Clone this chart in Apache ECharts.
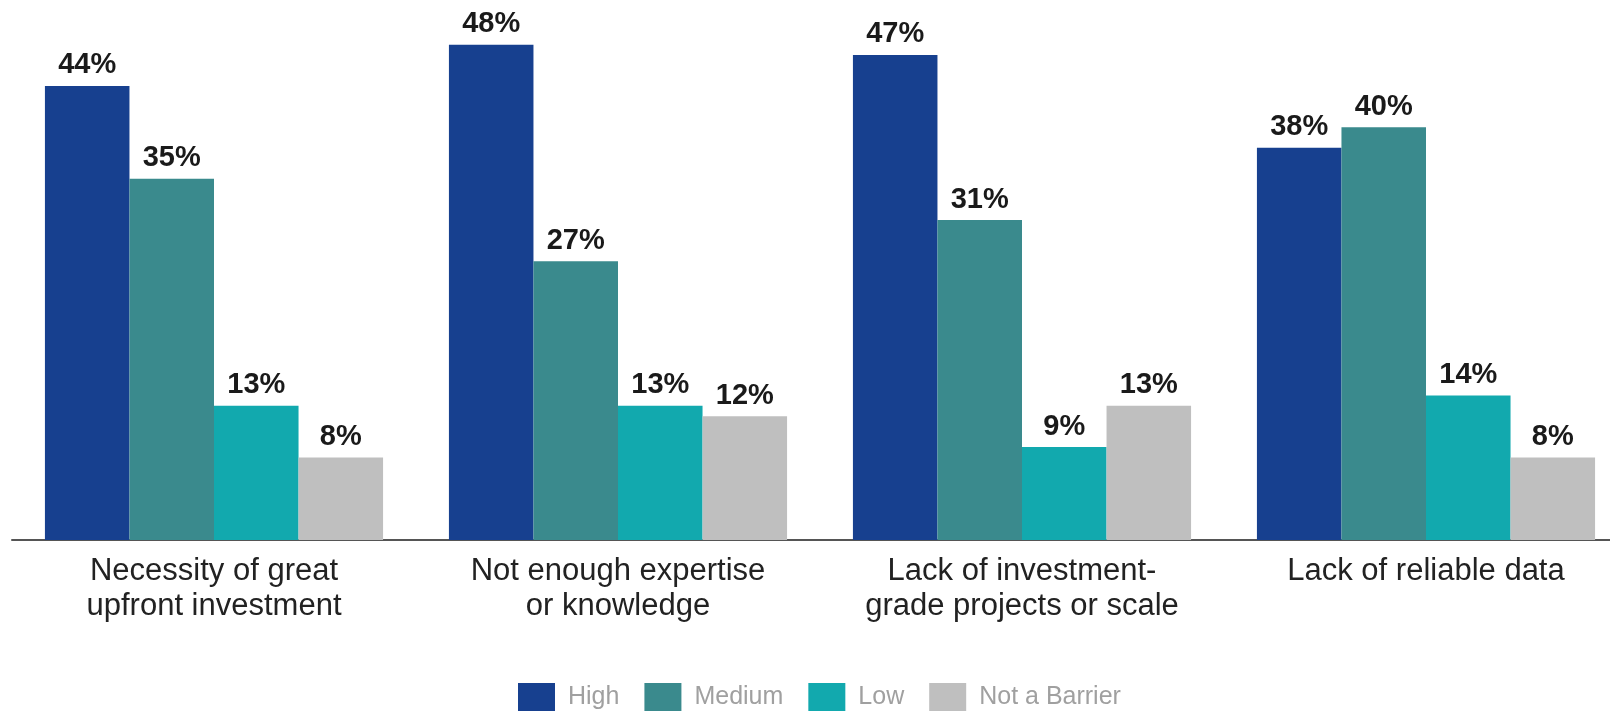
<!DOCTYPE html>
<html>
<head>
<meta charset="utf-8">
<script src="https://cdn.jsdelivr.net/npm/echarts@6/dist/echarts.min.js"></script>
<style>
html,body{margin:0;padding:0;background:#fff;}
#c{width:1610px;height:711px;}
</style>
</head>
<body>
<div id="c"></div>
<script>
const categories = ["Necessity of great\nupfront investment", "Not enough expertise\nor knowledge", "Lack of investment-\ngrade projects or scale", "Lack of reliable data"];
const seriesNames = ["High", "Medium", "Low", "Not a Barrier"];
const highValues = [44, 48, 47, 38];
const mediumValues = [35, 27, 31, 40];
const lowValues = [13, 13, 9, 14];
const notBarrierValues = [8, 12, 13, 8];

const colors = ["#17408f", "#3a8a8d", "#12a9ae", "#bfbfbf"];
const dataSets = [highValues, mediumValues, lowValues, notBarrierValues];

const chart = echarts.init(document.getElementById('c'));
chart.setOption({
  animation: false,
  backgroundColor: '#ffffff',
  grid: {left: 12, right: -18, top: 24, bottom: 171, containLabel: false, outerBoundsMode: 'none'},
  legend: {
    data: seriesNames,
    left: 518,
    top: 683,
    padding: 0,
    itemWidth: 37,
    itemHeight: 28,
    itemGap: 25,
    icon: 'rect',
    textStyle: {fontFamily: 'Liberation Sans, Arial, sans-serif', fontSize: 25, color: '#a0a0a0', padding: [0, 0, 0, 8]}
  },
  xAxis: {
    type: 'category',
    data: categories,
    axisLine: {show: true, lineStyle: {color: '#555555', width: 2}},
    axisTick: {show: false},
    axisLabel: {
      interval: 0,
      margin: 14,
      fontFamily: 'Liberation Sans, Arial, sans-serif',
      fontSize: 31,
      lineHeight: 35,
      color: '#222222'
    }
  },
  yAxis: {
    type: 'value',
    min: 0,
    max: 50,
    show: false,
    splitLine: {show: false}
  },
  series: dataSets.map((d, i) => ({
    name: seriesNames[i],
    type: 'bar',
    data: d,
    barGap: '0%',
    barCategoryGap: '16.3%',
    itemStyle: {color: colors[i]},
    label: {
      show: true,
      position: 'top',
      distance: 6,
      formatter: '{c}%',
      fontFamily: 'Liberation Sans, Arial, sans-serif',
      fontWeight: 'bold',
      fontSize: 29,
      color: '#1a1a1a'
    }
  }))
});
</script>
</body>
</html>
